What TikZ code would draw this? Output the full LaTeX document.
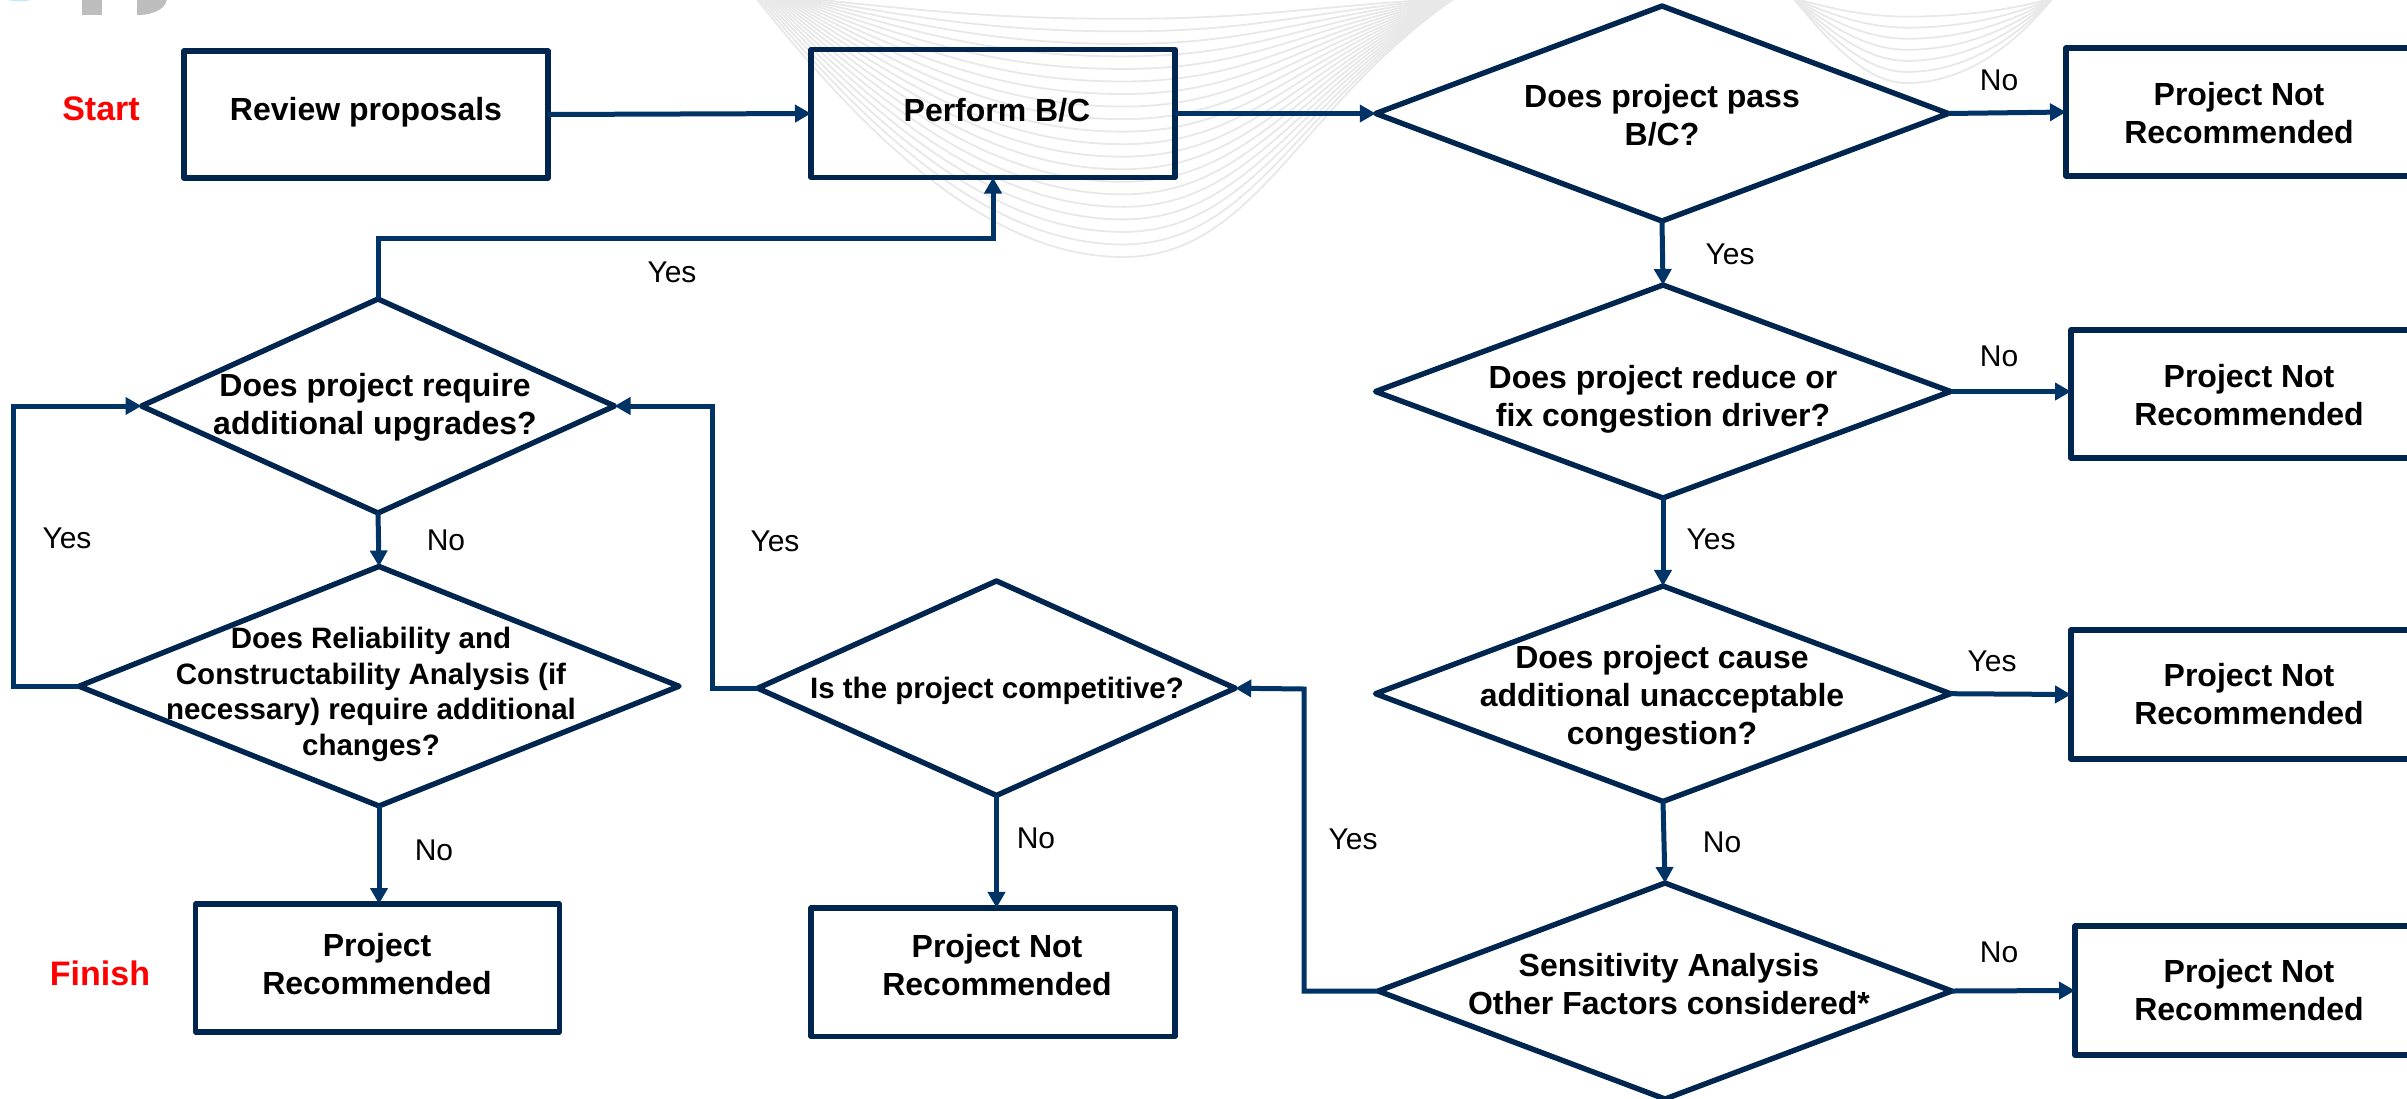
\documentclass[tikz,border=0pt]{standalone}
\usepackage{fontspec}
\setmainfont{Liberation Sans}
\usetikzlibrary{shapes.geometric,arrows.meta}
\definecolor{boxblue}{HTML}{00264F}
\definecolor{linkblue}{HTML}{003366}
\definecolor{wave}{HTML}{E8E8E8}
\definecolor{logogray}{HTML}{BDBDBD}
\tikzset{
  flowbox/.style={draw=boxblue,line width=5.4pt,rectangle,inner sep=0pt,outer sep=0pt,line join=round},
  decide/.style={draw=boxblue,line width=5.4pt,diamond,inner sep=0pt,outer sep=0pt,line join=round},
  conn/.style={draw=linkblue,line width=5pt,-{Triangle[length=16pt,width=17pt]}},
  lbl/.style={font=\fontsize{32}{38}\selectfont\bfseries,align=center,inner sep=0pt,text=black},
  lblsm/.style={font=\fontsize{29.5}{35.4}\selectfont\bfseries,align=center,inner sep=0pt,text=black},
  ans/.style={font=\fontsize{30}{36}\selectfont,inner sep=0pt,text=black},
  term/.style={font=\fontsize{34}{40}\selectfont\bfseries,inner sep=0pt,text=red},
  wavy/.style={draw=wave,line width=1.8pt}
}
\begin{document}
\begin{tikzpicture}[x=1pt,y=-1pt]
\useasboundingbox (0,0) rectangle (2407,1098);
\clip (0,0) rectangle (2407,1098);
% watermark
\foreach \k in {0,...,19}{
  \pgfmathsetmacro{\f}{1-\k/20.5}
  \pgfmathsetmacro{\sh}{\k*2.5}
  \draw[wavy] (756+\sh,-2) .. controls (880+\sh,{155*\f}) and (1000,{257*\f}) .. (1123,{257*\f})
     .. controls (1255,{257*\f}) and (1300,{105*\f}) .. (1455,-2);
}
\foreach \k in {0,...,6}{
  \pgfmathsetmacro{\f}{1-\k/7.5}
  \draw[wavy] (1793,-2) .. controls (1835,{50*\f}) and (1870,{83*\f}) .. (1907,{83*\f})
     .. controls (1965,{83*\f}) and (2015,{45*\f}) .. (2053,-2);
}
% logo remnants
\fill[logogray] (82,-1) rectangle (102,15);
\fill[logogray] (137,-1) -- (137,15) .. controls (155,15) and (166,8) .. (167,-1) -- cycle;
\fill[cyan!25] (5,-1) .. controls (12,2) and (25,2) .. (36,-1) -- cycle;
% boxes
\node[flowbox,minimum width=364pt,minimum height=127pt] (review) at (366,114.5) {};
\node[flowbox,minimum width=364pt,minimum height=128pt] (bc) at (993,113.5) {};
\node[flowbox,minimum width=364pt,minimum height=128pt] (nr1) at (2248,112) {};
\node[flowbox,minimum width=364pt,minimum height=128pt] (nr2) at (2253,394) {};
\node[flowbox,minimum width=364pt,minimum height=129pt] (nr3) at (2253,694.5) {};
\node[flowbox,minimum width=364pt,minimum height=129pt] (nr4) at (2257,990.5) {};
\node[flowbox,minimum width=364pt,minimum height=128pt] (rec) at (377.5,968) {};
\node[flowbox,minimum width=364pt,minimum height=128.5pt] (nr5) at (993,972.2) {};
% diamonds
\node[decide,minimum width=572.5pt,minimum height=215pt] (d1) at (1662,113.5) {};
\node[decide,minimum width=575pt,minimum height=213pt] (d2) at (1663,391.5) {};
\node[decide,minimum width=575pt,minimum height=215.5pt] (d3) at (1663,693.7) {};
\node[decide,minimum width=573.5pt,minimum height=216pt] (d4) at (1665,991) {};
\node[decide,minimum width=477.5pt,minimum height=214.5pt] (d5) at (996.5,688.2) {};
\node[decide,minimum width=600pt,minimum height=239.5pt] (d6) at (379,686.2) {};
\node[decide,minimum width=473pt,minimum height=214pt] (da) at (378,406) {};
% connector bends
\coordinate (k1) at (993,238.5);
\coordinate (k2) at (13,406);
\coordinate (k3) at (712,406);
\coordinate (k4) at (1304,689);
% connectors
\draw[conn] (review.east) -- (bc.west);
\draw[conn] (bc.east) -- (d1.west);
\draw[conn] (d1.east) -- (nr1.west);
\draw[conn] (d1.south) -- (d2.north);
\draw[conn] (d2.east) -- (d2.east -| nr2.west);
\draw[conn] (d2.south) -- (d3.north);
\draw[conn] (d3.east) -- (nr3.west);
\draw[conn] (d3.south) -- (d4.north);
\draw[conn] (d4.east) -- (nr4.west);
\draw[conn] (d4.west) -| (k4) -- (d5.east);
\draw[conn] (d5.south) -- (nr5.north -| d5.south);
\draw[conn] (d5.west) -| (k3) -- (da.east);
\draw[conn] (d6.west) -| (k2) -- (da.west);
\draw[conn] (da.south) -- (d6.north);
\draw[conn] (d6.south) -- (rec.north -| d6.south);
\draw[conn] (da.north) |- (k1) -- (bc.south);
% box and diamond texts
\node[term] (tstart) at (101,109) {Start};
\node[term] (tfinish) at (100,973) {Finish};
\node[lbl] (t1) at (366,112) {Review proposals};
\node[lbl] (t2) at (997,110) {Perform B/C};
\node[lbl] (t3) at (1662,115) {Does project pass\\B/C?};
\node[lbl] (t4) at (2239,113) {Project Not\\Recommended};
\node[lbl] (t5) at (1663,399.5) {Does project reduce or\\fix congestion driver?};
\node[lbl] (t6) at (2249,395.5) {Project Not\\Recommended};
\node[lbl] (t7) at (1662,698) {Does project cause\\additional unacceptable\\congestion?};
\node[lbl] (t8) at (2249,694.5) {Project Not\\Recommended};
\node[lbl] (t9) at (1669,984.5) {Sensitivity Analysis\\Other Factors considered*};
\node[lbl] (t10) at (2249,990.5) {Project Not\\Recommended};
\node[lbl] (t11) at (375,407) {Does project require\\additional upgrades?};
\node[lblsm] (t12) at (371,694.5) {Does Reliability and\\Constructability Analysis (if\\necessary) require additional\\changes?};
\node[lblsm] (t13) at (997,691) {Is the project competitive?};
\node[lbl] (t14) at (377,964.5) {Project\\Recommended};
\node[lbl] (t15) at (997,965.5) {Project Not\\Recommended};
% answers
\node[ans] (a1) at (672,272) {Yes};
\node[ans] (a2) at (67,538) {Yes};
\node[ans] (a3) at (446,540.5) {No};
\node[ans] (a4) at (775,541) {Yes};
\node[ans] (a5) at (1999,80) {No};
\node[ans] (a6) at (1730,254) {Yes};
\node[ans] (a7) at (1999,356) {No};
\node[ans] (a8) at (1711,539) {Yes};
\node[ans] (a9) at (1992,661) {Yes};
\node[ans] (a10) at (1722,842.5) {No};
\node[ans] (a11) at (1353,839.5) {Yes};
\node[ans] (a12) at (1999,952.5) {No};
\node[ans] (a13) at (434,850) {No};
\node[ans] (a14) at (1036,838.5) {No};
\end{tikzpicture}
\end{document}
